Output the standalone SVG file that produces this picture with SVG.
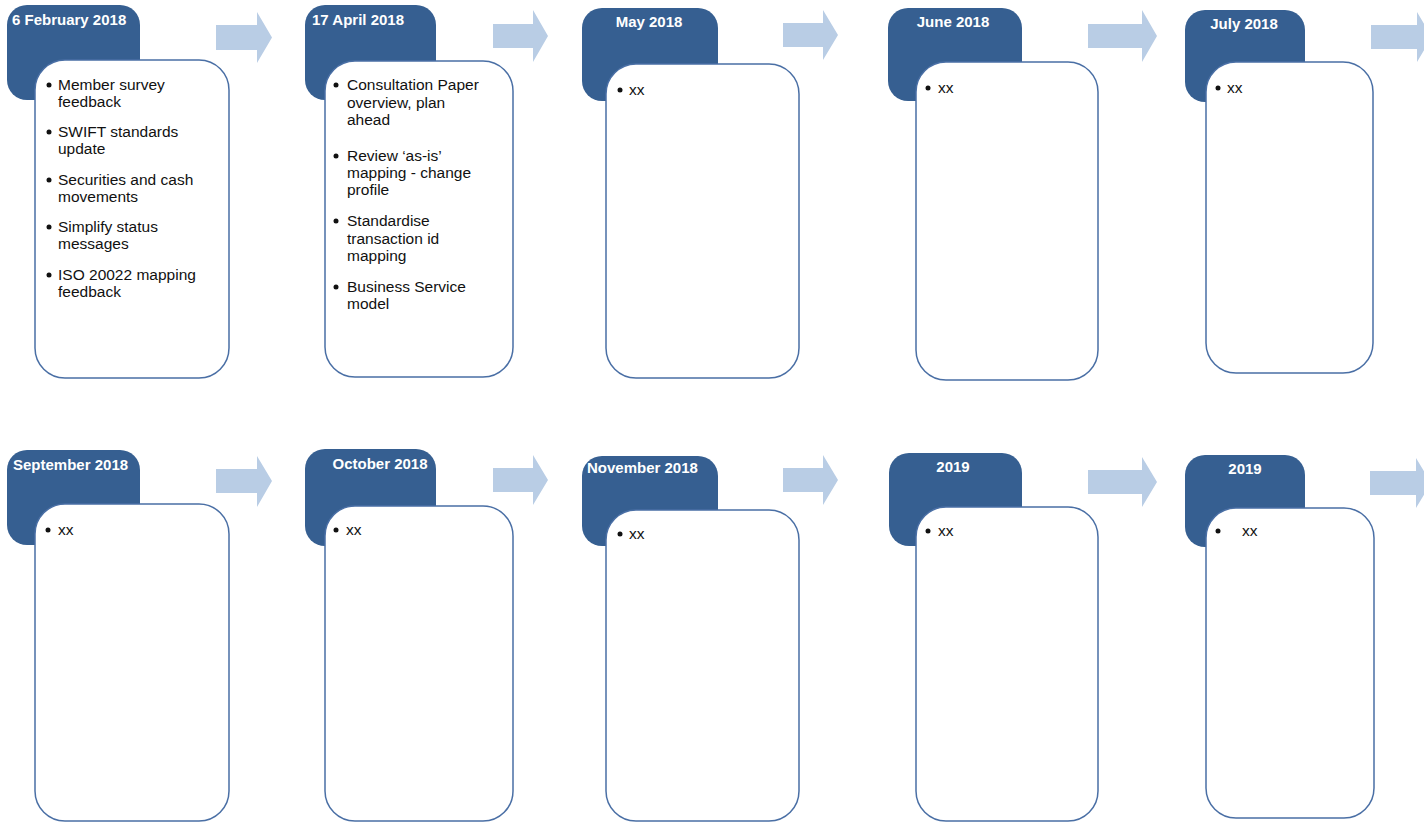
<svg xmlns="http://www.w3.org/2000/svg" width="1424" height="822" viewBox="0 0 1424 822">
<style>
.hd{fill:#365F91;}
.cd{fill:#FFFFFF;stroke:#4A6FA5;stroke-width:1.5;}
.ht{font-family:"Liberation Sans",Arial,sans-serif;font-weight:bold;font-size:15px;fill:#FFFFFF;}
.bt{font-family:"Liberation Sans",Arial,sans-serif;font-size:15.5px;fill:#111111;}
.bl{fill:#111111;}
.ar{fill:#B9CDE5;}
</style>
<rect width="1424" height="822" fill="#FFFFFF"/>
<g id="connectors">
<polygon class="ar" points="216,25 257,25 257,12 272,37.5 257,63 257,50 216,50"/>
<polygon class="ar" points="493,24 533,24 533,10 548,36 533,62 533,48 493,48"/>
<polygon class="ar" points="783,23 823,23 823,10 838,35 823,60 823,47 783,47"/>
<polygon class="ar" points="1088,24 1142,24 1142,10 1157,36 1142,62 1142,48 1088,48"/>
<polygon class="ar" points="1371,25 1417,25 1417,12 1432,37 1417,62 1417,49 1371,49"/>
<polygon class="ar" points="216,469 257,469 257,456 272,481 257,507 257,493 216,493"/>
<polygon class="ar" points="493,468 533,468 533,455 548,480 533,505 533,492 493,492"/>
<polygon class="ar" points="783,468 823,468 823,455 838,480 823,505 823,492 783,492"/>
<polygon class="ar" points="1088,470 1142,470 1142,457 1157,482 1142,507 1142,494 1088,494"/>
<polygon class="ar" points="1370,471 1416,471 1416,458 1431,483 1416,508 1416,495 1370,495"/>
</g>
<g id="node-feb2018">
<rect class="hd" x="7" y="5" width="133" height="95" rx="20"/>
<text class="ht" x="12" y="25">6 February 2018</text>
<rect class="cd" x="35" y="60" width="194" height="318" rx="30"/>
<circle class="bl" cx="49" cy="85" r="2.5"/>
<text class="bt" x="58" y="90">Member survey</text>
<text class="bt" x="58" y="107">feedback</text>
<circle class="bl" cx="49" cy="132" r="2.5"/>
<text class="bt" x="58" y="137">SWIFT standards</text>
<text class="bt" x="58" y="154">update</text>
<circle class="bl" cx="49" cy="180" r="2.5"/>
<text class="bt" x="58" y="185">Securities and cash</text>
<text class="bt" x="58" y="202">movements</text>
<circle class="bl" cx="49" cy="227" r="2.5"/>
<text class="bt" x="58" y="232">Simplify status</text>
<text class="bt" x="58" y="249">messages</text>
<circle class="bl" cx="49" cy="275" r="2.5"/>
<text class="bt" x="58" y="280">ISO 20022 mapping</text>
<text class="bt" x="58" y="297">feedback</text>
</g>
<g id="node-apr2018">
<rect class="hd" x="305" y="5" width="131" height="95" rx="20"/>
<text class="ht" x="312" y="25">17 April 2018</text>
<rect class="cd" x="325" y="61" width="188" height="316" rx="30"/>
<circle class="bl" cx="336" cy="85" r="2.5"/>
<text class="bt" x="347" y="90">Consultation Paper</text>
<text class="bt" x="347" y="107.5">overview, plan</text>
<text class="bt" x="347" y="125">ahead</text>
<circle class="bl" cx="336" cy="156" r="2.5"/>
<text class="bt" x="347" y="161">Review ‘as-is’</text>
<text class="bt" x="347" y="178">mapping - change</text>
<text class="bt" x="347" y="195">profile</text>
<circle class="bl" cx="336" cy="221" r="2.5"/>
<text class="bt" x="347" y="226">Standardise</text>
<text class="bt" x="347" y="244">transaction id</text>
<text class="bt" x="347" y="261">mapping</text>
<circle class="bl" cx="336" cy="287" r="2.5"/>
<text class="bt" x="347" y="292">Business Service</text>
<text class="bt" x="347" y="309">model</text>
</g>
<g id="node-may2018">
<rect class="hd" x="582" y="8" width="136" height="93" rx="20"/>
<text class="ht" x="649" y="27" text-anchor="middle">May 2018</text>
<rect class="cd" x="606" y="64" width="193" height="314" rx="30"/>
<circle class="bl" cx="620" cy="90" r="2.5"/>
<text class="bt" x="629" y="95">xx</text>
</g>
<g id="node-jun2018">
<rect class="hd" x="888" y="8" width="134" height="93" rx="20"/>
<text class="ht" x="953" y="27" text-anchor="middle">June 2018</text>
<rect class="cd" x="916" y="62" width="182" height="318" rx="30"/>
<circle class="bl" cx="928" cy="88" r="2.5"/>
<text class="bt" x="938" y="93">xx</text>
</g>
<g id="node-jul2018">
<rect class="hd" x="1185" y="10" width="120" height="92" rx="20"/>
<text class="ht" x="1244" y="29" text-anchor="middle">July 2018</text>
<rect class="cd" x="1206" y="62" width="167" height="311" rx="30"/>
<circle class="bl" cx="1218" cy="88" r="2.5"/>
<text class="bt" x="1227" y="93">xx</text>
</g>
<g id="node-sep2018">
<rect class="hd" x="7" y="450" width="133" height="95" rx="20"/>
<text class="ht" x="13" y="470">September 2018</text>
<rect class="cd" x="35" y="504" width="194" height="317" rx="30"/>
<circle class="bl" cx="48" cy="530" r="2.5"/>
<text class="bt" x="58" y="535">xx</text>
</g>
<g id="node-oct2018">
<rect class="hd" x="305" y="449" width="131" height="97" rx="20"/>
<text class="ht" x="380" y="469" text-anchor="middle">October 2018</text>
<rect class="cd" x="325" y="506" width="188" height="315" rx="30"/>
<circle class="bl" cx="336" cy="530" r="2.5"/>
<text class="bt" x="346" y="535">xx</text>
</g>
<g id="node-nov2018">
<rect class="hd" x="582" y="456" width="136" height="90" rx="20"/>
<text class="ht" x="587" y="473">November 2018</text>
<rect class="cd" x="606" y="510" width="193" height="311" rx="30"/>
<circle class="bl" cx="620" cy="534" r="2.5"/>
<text class="bt" x="629" y="539">xx</text>
</g>
<g id="node-2019a">
<rect class="hd" x="889" y="453" width="133" height="93" rx="20"/>
<text class="ht" x="953" y="472" text-anchor="middle">2019</text>
<rect class="cd" x="916" y="507" width="182" height="314" rx="30"/>
<circle class="bl" cx="928" cy="531" r="2.5"/>
<text class="bt" x="938" y="536">xx</text>
</g>
<g id="node-2019b">
<rect class="hd" x="1185" y="455" width="120" height="92" rx="20"/>
<text class="ht" x="1245" y="474" text-anchor="middle">2019</text>
<rect class="cd" x="1206" y="508" width="168" height="310" rx="30"/>
<circle class="bl" cx="1218" cy="531" r="2.5"/>
<text class="bt" x="1242" y="536">xx</text>
</g>
</svg>
